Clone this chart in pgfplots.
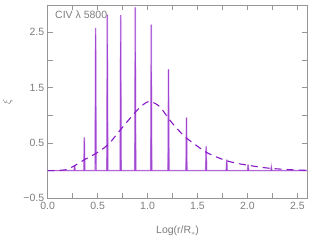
\documentclass[border=0pt]{standalone}
\usepackage{fontspec}
\setmainfont{Liberation Sans}
\usepackage{pgfplots}
\pgfplotsset{compat=1.18}
\definecolor{gtext}{RGB}{125,125,125}
\definecolor{gaxis}{RGB}{150,150,150}
\definecolor{spk}{RGB}{160,70,210}
\definecolor{spklight}{RGB}{215,170,235}
\definecolor{dsh}{RGB}{135,25,200}
\pgfplotstableread{
x y
0 0
0.265 0
0.27 0.1
0.275 0
0.362 0
0.367 0.60
0.372 0
0.475 0
0.48 2.58
0.485 0
0.592 0
0.597 2.82
0.602 0
0.726 0
0.731 2.81
0.736 0
0.872 0
0.877 2.95
0.882 0
1.032 0
1.037 2.64
1.042 0
1.205 0
1.21 1.83
1.215 0
1.385 0
1.39 0.96
1.395 0
1.582 0
1.587 0.44
1.592 0
1.788 0
1.793 0.20
1.798 0
2.002 0
2.007 0.11
2.012 0
2.235 0
2.24 0.06
2.245 0
2.6 0
}\spikes
\begin{document}
\begin{tikzpicture}
\path[use as bounding box] (-47.7pt,-50.7pt) rectangle (277.3pt,198.3pt);
\begin{axis}[
  at={(0,0)}, anchor=south west,
  scale only axis, width=259.6pt, height=193.6pt,
  xmin=0, xmax=2.6, ymin=-0.5, ymax=3.0,
  xtick={0,0.5,...,2.5},
  xticklabels={0.0,0.5,1.0,1.5,2.0,2.5},
  minor xtick={0.25,0.75,...,2.5},
  ytick={-0.5,0.5,1.5,2.5},
  yticklabels={−0.5,0.5,1.5,2.5},
  minor ytick={0,1,2,3},
  tick align=inside,
  major tick length=5pt, minor tick length=5pt,
  axis line style={gaxis},
  every tick/.style={gaxis},
  tick label style={font=\fontsize{10.5}{11}\selectfont, text=gtext},
  label style={font=\fontsize{10.5}{11}\selectfont, text=gtext},
  xlabel={Log(r/R\raisebox{-0.4ex}{\scriptsize$\ast$})},
  ylabel={$\xi$},
  xlabel style={yshift=-10pt},
  ylabel style={yshift=4pt},
  clip=true,
]
\addplot[spklight, line width=1.6pt] table {\spikes};
\addplot[spk, line width=0.7pt] table {\spikes};
\addplot[dsh, line width=1.1pt, dash pattern=on 7pt off 5pt, smooth] coordinates {
(0,0) (0.1,0.003) (0.19,0.02) (0.26,0.08) (0.37,0.2) (0.5,0.33) (0.61,0.48)
(0.72,0.72) (0.86,1.02) (0.94,1.17) (1.02,1.25) (1.12,1.16) (1.22,0.92)
(1.3,0.75) (1.39,0.59) (1.5,0.44) (1.59,0.33) (1.7,0.24) (1.79,0.18)
(1.9,0.13) (2.0,0.1) (2.12,0.065) (2.24,0.04) (2.4,0.02) (2.52,0.01) (2.6,0.005)
};
\node[anchor=west, text=gtext, font=\fontsize{10.5}{11}\selectfont] at (axis cs:0.04,2.81) {CIV λ 5800};
\end{axis}
\end{tikzpicture}
\end{document}
